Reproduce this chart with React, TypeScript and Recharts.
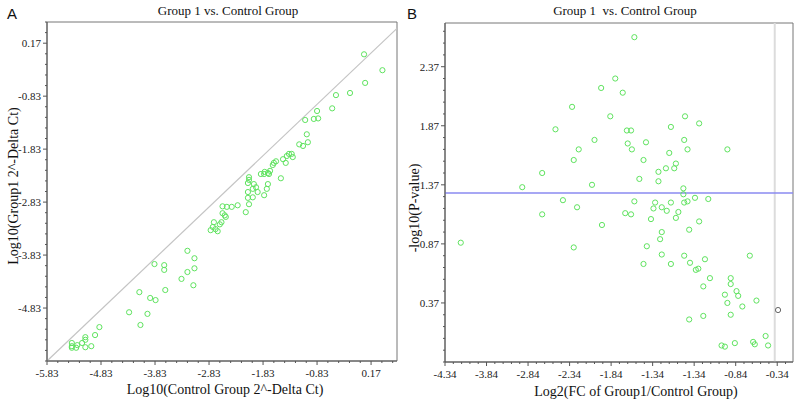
import React from 'react';
import { ScatterChart, Scatter, XAxis, YAxis, ReferenceLine, ReferenceArea } from 'recharts';

// ---------- Panel A data: Log10(Control 2^-dCt) vs Log10(Group1 2^-dCt)
const aControl = [
  0.04, 0.38, 0.06, -0.22, -0.48, -0.55, -0.83, -1.05, -0.89, -0.81,
  -1.02, -1.16, -1.09, -1.0, -1.3, -1.35, -1.39, -1.28, -1.46, -1.41,
  -1.59, -1.63, -1.65, -1.7, -1.74, -1.8, -1.87, -1.81, -1.72, -1.5,
  -2.09, -2.09, -2.11, -2.0, -2.02, -1.96, -1.93, -2.11, -1.74, -1.76,
  -1.81, -2.02, -2.11, -2.09, -2.15, -2.3, -2.41, -2.5, -2.58, -2.58,
  -2.54, -2.52, -2.6, -2.63, -2.74, -2.76, -2.8, -2.71, -2.67, -3.23,
  -3.1, -3.84, -3.66, -3.66, -3.23, -3.1, -3.34, -3.12, -4.12, -3.64,
  -3.92, -3.82, -4.31, -3.97, -4.1, -4.86, -4.94, -5.12, -5.12, -5.18,
  -5.27, -5.37, -5.37, -5.37, -5.29, -5.12, -5.01,
];
const aGroup1 = [
  -0.04, -0.34, -0.58, -0.77, -0.81, -1.06, -1.11, -1.28, -1.26, -1.25,
  -1.55, -1.74, -1.77, -1.7, -1.92, -1.92, -1.96, -1.98, -2.02, -2.09,
  -2.06, -2.09, -2.13, -2.24, -2.28, -2.26, -2.3, -2.3, -2.3, -2.38,
  -2.36, -2.41, -2.47, -2.49, -2.58, -2.55, -2.64, -2.64, -2.49, -2.58,
  -2.7, -2.74, -2.75, -2.87, -3.02, -2.89, -2.92, -2.92, -2.91, -3.04,
  -3.08, -3.11, -3.21, -3.25, -3.21, -3.3, -3.36, -3.34, -3.38, -3.75,
  -3.89, -4.0, -4.02, -4.11, -4.15, -4.08, -4.28, -4.4, -4.53, -4.49,
  -4.64, -4.68, -4.91, -4.94, -5.15, -5.19, -5.34, -5.38, -5.43, -5.49,
  -5.53, -5.49, -5.55, -5.58, -5.58, -5.57, -5.55,
];
const aXTickValues = [-5.83, -4.83, -3.83, -2.83, -1.83, -0.83, 0.17];
const aXTickLabels = ['-5.83', '-4.83', '-3.83', '-2.83', '-1.83', '-0.83', '0.17'];
const aYTickValues = [-4.83, -3.83, -2.83, -1.83, -0.83, 0.17];
const aYTickLabels = ['-4.83', '-3.83', '-2.83', '-1.83', '-0.83', '0.17'];
const aXDomain: [number, number] = [-5.83, 0.65];
const aYDomain: [number, number] = [-5.83, 0.57];
const aDiagonal = [{ x: -5.83, y: -5.83 }, { x: 0.65, y: 0.45 }];

// ---------- Panel B data: Log2(FC) vs -log10(P)
const bLog2FC = [
  -2.06, -2.29, -2.46, -2.2, -2.81, -2.35, -1.45, -3.01, -2.15, -2.1,
  -1.62, -1.28, -2.54, -1.46, -2.14, -1.92, -2.73, -2.09, -1.64, -1.42,
  -0.94, -2.79, -1.95, -1.56, -1.68, -1.58, -3.17, -1.77, -2.0, -1.77,
  -2.57, -3.41, -1.47, -1.47, -2.92, -1.33, -1.17, -2.06, -1.81, -1.62,
  -1.46, -1.42, -1.73, -2.75, -1.83, -1.67, -1.53, -2.17, -2.1, -3.17,
  -1.56, -1.86, -1.28, -2.45, -1.4, -1.73, -1.75, -4.15, -1.91, -2.79,
  -1.73, -1.46, -1.21, -0.67, -1.39, -1.95, -1.62, -1.29, -1.32, -1.15,
  -0.9, -0.9, -1.23, -0.83, -0.97, -0.81, -0.94, -0.59, -0.76, -1.4,
  -1.23, -0.9, -0.48, -1.01, -0.97, -0.85, -0.63, -0.61, -0.45,
];
const bNegLogP = [
  2.62, 2.27, 2.19, 2.15, 2.03, 1.95, 1.95, 1.84, 1.83, 1.83,
  1.86, 1.89, 1.75, 1.75, 1.72, 1.73, 1.67, 1.67, 1.64, 1.67,
  1.67, 1.58, 1.58, 1.55, 1.51, 1.51, 1.47, 1.48, 1.42, 1.4,
  1.37, 1.35, 1.34, 1.29, 1.24, 1.26, 1.25, 1.23, 1.22, 1.22,
  1.22, 1.23, 1.18, 1.18, 1.17, 1.15, 1.14, 1.13, 1.12, 1.12,
  1.09, 1.08, 1.06, 1.03, 0.99, 0.97, 0.91, 0.88, 0.85, 0.84,
  0.78, 0.77, 0.74, 0.77, 0.71, 0.7, 0.7, 0.66, 0.65, 0.58,
  0.58, 0.53, 0.51, 0.47, 0.44, 0.43, 0.37, 0.39, 0.34, 0.23,
  0.26, 0.27, 0.09, 0.01, 0.0, 0.03, 0.04, 0.02, 0.01,
];
const bOutlierLog2FC = [-0.33];
const bOutlierNegLogP = [0.31];
const bXTickValues = [-4.34, -3.84, -3.34, -2.84, -2.34, -1.84, -1.34, -0.84, -0.34];
const bXTickLabels = ['-4.34', '-3.84', '-2.84', '-2.34', '-1.84', '-1.34', '-1.34', '-0.84', '-0.34'];
const bYTickValues = [0.37, 0.87, 1.37, 1.87, 2.37];
const bYTickLabels = ['0.37', '0.87', '1.37', '1.87', '2.37'];
const bXDomain: [number, number] = [-4.34, -0.15];
const bYDomain: [number, number] = [-0.13, 2.74];
const bPThreshold = 1.301;
const bFcLine = -0.37;

// ---------- helpers
const zip = (xs: number[], ys: number[]) => xs.map((x, i) => ({ x, y: ys[i] }));
const r2 = (v: number) => Math.round(v * 100) / 100;
function minorTicks(start: number, step: number, lo: number, hi: number) {
  const out: number[] = [];
  const k0 = Math.ceil((lo - start) / step - 1e-9);
  const k1 = Math.floor((hi - start) / step + 1e-9);
  for (let k = k0; k <= k1; k++) out.push(r2(start + k * step));
  return out;
}

const SERIF = '"Liberation Serif", "Times New Roman", serif';
const SANS = '"Liberation Sans", Arial, sans-serif';
const AXIS = '#555';
const GREEN = '#5fe35f';

function makeTick(axis: 'x' | 'y', majors: number[], labels: string[]) {
  return (props: any) => {
    const { x, y, payload } = props;
    const v = payload.value;
    const idx = majors.findIndex((m) => Math.abs(m - v) < 1e-6);
    const major = idx >= 0;
    const len = major ? 4 : 2;
    if (axis === 'x') {
      return (
        <g>
          <line x1={x} y1={y} x2={x} y2={y + len} stroke={AXIS} strokeWidth={1} />
          {major && (
            <text x={x} y={y + 16} textAnchor="middle" fontFamily={SERIF} fontSize={11} fill="#222">
              {labels[idx]}
            </text>
          )}
        </g>
      );
    }
    return (
      <g>
        <line x1={x - len} y1={y} x2={x} y2={y} stroke={AXIS} strokeWidth={1} />
        {major && (
          <text x={x - 6} y={y + 4} textAnchor="end" fontFamily={SERIF} fontSize={11} fill="#222">
            {labels[idx]}
          </text>
        )}
      </g>
    );
  };
}

const circle = (color: string) => (props: any) => (
  <circle cx={props.cx} cy={props.cy} r={2.6} fill="none" stroke={color} strokeWidth={1} />
);

const aData = zip(aControl, aGroup1);
const bData = zip(bLog2FC, bNegLogP);
const bOut = zip(bOutlierLog2FC, bOutlierNegLogP);

export default function App() {
  const aXT = minorTicks(-5.83, 0.2, aXDomain[0], aXDomain[1]);
  const aYT = minorTicks(-5.83, 0.2, aYDomain[0], aYDomain[1]);
  const bXT = minorTicks(-4.34, 0.1, bXDomain[0], bXDomain[1]);
  const bYT = minorTicks(0.37, 0.1, bYDomain[0], bYDomain[1]);

  return (
    <div style={{ position: 'absolute', left: 0, top: 0, width: 800, height: 407, background: '#fff' }}>
      <div style={{ position: 'absolute', left: 0, top: 0 }}>
        <ScatterChart width={400} height={407} margin={{ top: 22, right: 3, bottom: 0, left: 0 }}>
          <XAxis
            type="number" dataKey="x" domain={aXDomain} allowDataOverflow ticks={aXT} interval={0}
            height={46} tickSize={0} tickMargin={0} stroke={AXIS}
            tick={makeTick('x', aXTickValues, aXTickLabels)}
          />
          <YAxis
            type="number" dataKey="y" domain={aYDomain} allowDataOverflow ticks={aYT} interval={0}
            width={47} tickSize={0} tickMargin={0} stroke={AXIS}
            tick={makeTick('y', aYTickValues, aYTickLabels)}
          />
          <ReferenceArea x1={aXDomain[0]} x2={aXDomain[1]} y1={aYDomain[0]} y2={aYDomain[1]} fill="none" stroke="#777" strokeWidth={1} />
          <ReferenceLine segment={aDiagonal} stroke="#c4c4c4" strokeWidth={1.2} />
          <Scatter data={aData} isAnimationActive={false} shape={circle(GREEN)} />
        </ScatterChart>
      </div>
      <div style={{ position: 'absolute', left: 400, top: 0 }}>
        <ScatterChart width={400} height={407} margin={{ top: 23, right: 7, bottom: 0, left: 0 }}>
          <XAxis
            type="number" dataKey="x" domain={bXDomain} allowDataOverflow ticks={bXT} interval={0}
            height={45} tickSize={0} tickMargin={0} stroke={AXIS}
            tick={makeTick('x', bXTickValues, bXTickLabels)}
          />
          <YAxis
            type="number" dataKey="y" domain={bYDomain} allowDataOverflow ticks={bYT} interval={0}
            width={45} tickSize={0} tickMargin={0} stroke={AXIS}
            tick={makeTick('y', bYTickValues, bYTickLabels)}
          />
          <ReferenceArea x1={bXDomain[0]} x2={bXDomain[1]} y1={bYDomain[0]} y2={bYDomain[1]} fill="none" stroke="#777" strokeWidth={1} />
          <ReferenceLine x={bFcLine} stroke="#dcdcdc" strokeWidth={2} />
          <ReferenceLine y={bPThreshold} stroke="#8a8af0" strokeWidth={1.5} />
          <Scatter data={bData} isAnimationActive={false} shape={circle(GREEN)} />
          <Scatter data={bOut} isAnimationActive={false} shape={circle('#666')} />
        </ScatterChart>
      </div>
      <svg width={800} height={407} style={{ position: 'absolute', left: 0, top: 0, pointerEvents: 'none' }}>
        <text x={7} y={19} fontFamily={SANS} fontSize={15} fill="#111">A</text>
        <text x={407} y={19} fontFamily={SANS} fontSize={15} fill="#111">B</text>
        <text x={228} y={15} textAnchor="middle" fontFamily={SERIF} fontSize={13} fill="#111">
          Group 1 vs. Control Group
        </text>
        <text x={625} y={15} textAnchor="middle" fontFamily={SERIF} fontSize={13} fill="#111" style={{ whiteSpace: 'pre' }}>
          {'Group 1  vs. Control Group'}
        </text>
        <text x={225} y={394} textAnchor="middle" fontFamily={SERIF} fontSize={14} fill="#111">
          Log10(Control Group 2^-Delta Ct)
        </text>
        <text x={636} y={396} textAnchor="middle" fontFamily={SERIF} fontSize={14} fill="#111">
          Log2(FC of Group1/Control Group)
        </text>
        <text
          x={13} y={186} textAnchor="middle" dominantBaseline="central" fontFamily={SERIF} fontSize={14} fill="#111"
          transform="rotate(-90 13 186)"
        >
          Log10(Group1 2^-Delta Ct)
        </text>
        <text
          x={414} y={208} textAnchor="middle" dominantBaseline="central" fontFamily={SERIF} fontSize={14} fill="#111"
          transform="rotate(-90 414 208)"
        >
          -log10(P-value)
        </text>
      </svg>
    </div>
  );
}
